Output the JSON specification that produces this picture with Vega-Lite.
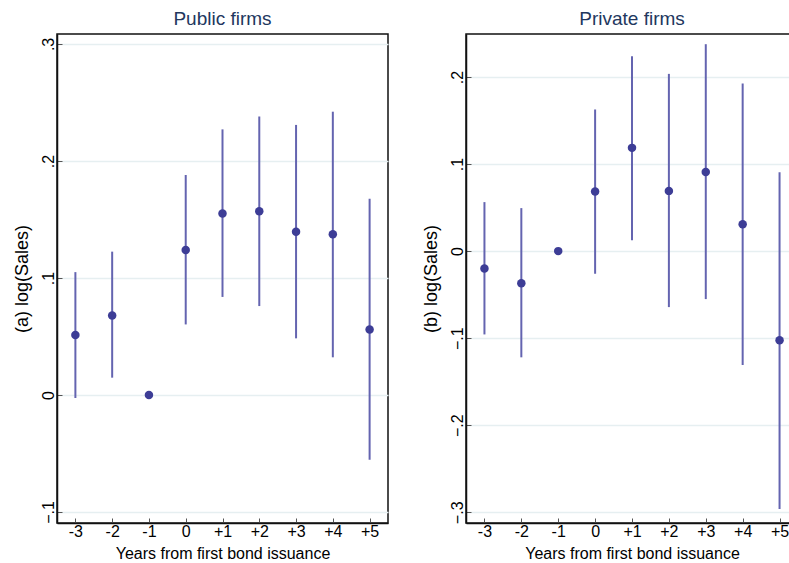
{
  "$schema": "https://vega.github.io/schema/vega-lite/v6.json",
  "datasets": {
    "public": [
      {"year": -3, "coef": 0.0513, "lo": -0.0026, "hi": 0.105},
      {"year": -2, "coef": 0.068, "lo": 0.0148, "hi": 0.1225},
      {"year": -1, "coef": 0.0, "lo": null, "hi": null},
      {"year": 0, "coef": 0.124, "lo": 0.0603, "hi": 0.188},
      {"year": 1, "coef": 0.155, "lo": 0.0838, "hi": 0.227},
      {"year": 2, "coef": 0.157, "lo": 0.076, "hi": 0.238},
      {"year": 3, "coef": 0.1396, "lo": 0.0484, "hi": 0.2308},
      {"year": 4, "coef": 0.1373, "lo": 0.0322, "hi": 0.2421},
      {"year": 5, "coef": 0.056, "lo": -0.0553, "hi": 0.1678}
    ],
    "private": [
      {"year": -3, "coef": -0.0199, "lo": -0.0957, "hi": 0.0563},
      {"year": -2, "coef": -0.037, "lo": -0.122, "hi": 0.0494},
      {"year": -1, "coef": 0.0, "lo": null, "hi": null},
      {"year": 0, "coef": 0.0685, "lo": -0.026, "hi": 0.1627},
      {"year": 1, "coef": 0.1186, "lo": 0.0126, "hi": 0.2239},
      {"year": 2, "coef": 0.0692, "lo": -0.0643, "hi": 0.2036},
      {"year": 3, "coef": 0.091, "lo": -0.0551, "hi": 0.2377},
      {"year": 4, "coef": 0.031, "lo": -0.1309, "hi": 0.1925},
      {"year": 5, "coef": -0.1025, "lo": -0.2962, "hi": 0.0907}
    ]
  },
  "padding": {"left": 12, "top": 9, "right": 0, "bottom": 0},
  "spacing": 78,
  "bounds": "flush",
  "config": {
    "font": "Liberation Sans",
    "view": {"stroke": "#111111", "strokeWidth": 1.5},
    "title": {"font": "Liberation Sans", "fontSize": 19, "fontWeight": "normal", "color": "#22375e", "offset": 5},
    "axis": {
      "labelFont": "Liberation Sans",
      "titleFont": "Liberation Sans",
      "labelColor": "#000000",
      "titleColor": "#000000",
      "titleFontWeight": "normal",
      "domainColor": "#111111",
      "domainWidth": 1.5,
      "tickColor": "#555555",
      "gridColor": "#e6eff1",
      "gridWidth": 1.5
    }
  },
  "hconcat": [
    {
      "width": 331,
      "height": 489,
      "title": "Public firms",
      "data": {"name": "public"},
      "layer": [
        {
          "transform": [{"filter": "datum.lo != null"}],
          "mark": {"type": "rule", "color": "#6464b0", "strokeWidth": 2},
          "encoding": {
            "x": {"field": "year", "type": "quantitative"},
            "y": {"field": "lo", "type": "quantitative"},
            "y2": {"field": "hi"}
          }
        },
        {
          "mark": {"type": "point", "filled": true, "color": "#3d3d96", "opacity": 1, "size": 72},
          "encoding": {
            "x": {"field": "year", "type": "quantitative"},
            "y": {"field": "coef", "type": "quantitative"}
          }
        }
      ],
      "encoding": {
        "x": {
          "field": "year", "type": "quantitative",
          "scale": {"domain": [-3.5, 5.5], "nice": false, "zero": false},
          "axis": {
            "values": [-3, -2, -1, 0, 1, 2, 3, 4, 5],
            "labelExpr": "datum.value > 0 ? '+' + datum.value : '' + datum.value",
            "grid": false, "tickSize": -5, "labelPadding": 5, "labelFontSize": 16,
            "title": "Years from first bond issuance", "titleFontSize": 16,
            "titleY": 22, "titleBaseline": "top"
          }
        },
        "y": {
          "type": "quantitative",
          "scale": {"domain": [-0.1094, 0.3085], "nice": false, "zero": false},
          "axis": {
            "values": [-0.1, 0, 0.1, 0.2, 0.3],
            "labelExpr": "datum.value == 0 ? '0' : replace(format(datum.value, '.1f'), '0.', '.')",
            "labelAngle": 270, "labelAlign": "center", "labelBaseline": "alphabetic",
            "tickSize": -5, "labelPadding": 9, "labelFontSize": 16,
            "title": "(a) log(Sales)", "titleFontSize": 18, "titleX": -30, "titleBaseline": "alphabetic"
          }
        }
      }
    },
    {
      "width": 332,
      "height": 489,
      "title": "Private firms",
      "data": {"name": "private"},
      "layer": [
        {
          "transform": [{"filter": "datum.lo != null"}],
          "mark": {"type": "rule", "color": "#6464b0", "strokeWidth": 2},
          "encoding": {
            "x": {"field": "year", "type": "quantitative"},
            "y": {"field": "lo", "type": "quantitative"},
            "y2": {"field": "hi"}
          }
        },
        {
          "mark": {"type": "point", "filled": true, "color": "#3d3d96", "opacity": 1, "size": 72},
          "encoding": {
            "x": {"field": "year", "type": "quantitative"},
            "y": {"field": "coef", "type": "quantitative"}
          }
        }
      ],
      "encoding": {
        "x": {
          "field": "year", "type": "quantitative",
          "scale": {"domain": [-3.5, 5.5], "nice": false, "zero": false},
          "axis": {
            "values": [-3, -2, -1, 0, 1, 2, 3, 4, 5],
            "labelExpr": "datum.value > 0 ? '+' + datum.value : '' + datum.value",
            "grid": false, "tickSize": -5, "labelPadding": 5, "labelFontSize": 16,
            "title": "Years from first bond issuance", "titleFontSize": 16,
            "titleY": 22, "titleBaseline": "top"
          }
        },
        "y": {
          "type": "quantitative",
          "scale": {"domain": [-0.3123, 0.2494], "nice": false, "zero": false},
          "axis": {
            "values": [-0.3, -0.2, -0.1, 0, 0.1, 0.2],
            "labelExpr": "datum.value == 0 ? '0' : replace(format(datum.value, '.1f'), '0.', '.')",
            "labelAngle": 270, "labelAlign": "center", "labelBaseline": "alphabetic",
            "tickSize": -5, "labelPadding": 9, "labelFontSize": 16,
            "title": "(b) log(Sales)", "titleFontSize": 18, "titleX": -30, "titleBaseline": "alphabetic"
          }
        }
      }
    }
  ]
}
